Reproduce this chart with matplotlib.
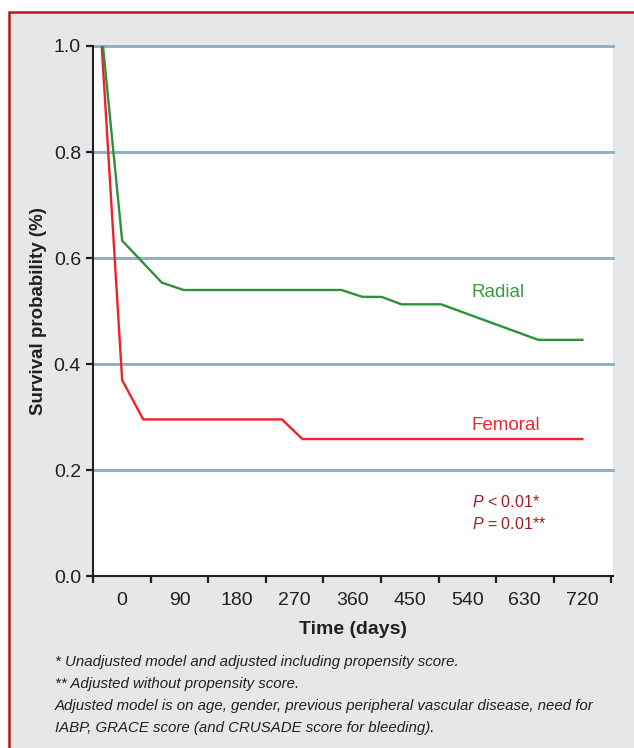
import matplotlib
matplotlib.use("Agg")
import matplotlib.pyplot as plt
from matplotlib.patches import Rectangle
import numpy as np

plt.rcParams['font.family'] = ['Liberation Sans', 'DejaVu Sans']
plt.rcParams['mathtext.fontset'] = 'custom'
plt.rcParams['mathtext.it'] = 'Liberation Sans:italic'
plt.rcParams['mathtext.rm'] = 'Liberation Sans'

# survival curves
radial_days = [-30, 0, 62, 96, 343, 376, 406, 437, 499, 651, 720]
radial_surv = [1.0, 0.633, 0.554, 0.540, 0.540, 0.527, 0.527, 0.513, 0.513, 0.446, 0.446]
femoral_days = [-32, 0, 33, 250, 282, 720]
femoral_surv = [1.0, 0.370, 0.296, 0.296, 0.259, 0.259]

x_ticks = [0, 90, 180, 270, 360, 450, 540, 630, 720]
x_bounds = [-45, 45, 135, 225, 315, 405, 495, 585, 675, 765]
y_ticks = [0.0, 0.2, 0.4, 0.6, 0.8, 1.0]

footnotes = [
    "* Unadjusted model and adjusted including propensity score.",
    "** Adjusted without propensity score.",
    "Adjusted model is on age, gender, previous peripheral vascular disease, need for",
    "IABP, GRACE score (and CRUSADE score for bleeding).",
]

bg = "#e6e7e9"
dark = "#231f20"
grid_col = "#8fb0c3"
green = "#2b923a"
red = "#ee2228"

fig = plt.figure(figsize=(6.34, 7.48), dpi=100)
fig.patch.set_facecolor("white")
W, H = 634, 748
frame = Rectangle((9.3 / W, -0.05), 1.2, 1 - 12.3 / H + 0.05, transform=fig.transFigure,
                  facecolor=bg, edgecolor="#b8141d", linewidth=1.8, clip_on=False, zorder=0)
fig.patches.append(frame)

ax = fig.add_axes([93.4 / W, 1 - 576.4 / H, (613 - 93.4) / W, (576.4 - 46) / H])
ax.set_zorder(2)
ax.set_facecolor("white")
ax.set_xlim(-45, 768)
ax.set_ylim(0, 1.0)

for v in y_ticks[1:]:
    ax.axhline(v, color=grid_col, lw=2.1, clip_on=False, zorder=1)

ax.plot(femoral_days, femoral_surv, color=red, lw=1.7, zorder=3, solid_joinstyle="miter")
ax.plot(radial_days, radial_surv, color=green, lw=1.7, zorder=3, solid_joinstyle="miter")

for s in ["top", "right"]:
    ax.spines[s].set_visible(False)
for s in ["left", "bottom"]:
    ax.spines[s].set_color(dark)
    ax.spines[s].set_linewidth(1.5)
    ax.spines[s].set_zorder(4)

ax.set_yticks(y_ticks)
ax.set_yticklabels([f"{v:.1f}" for v in y_ticks])
ax.tick_params(axis="y", length=5, width=1.6, color=dark, pad=4, labelsize=14, labelcolor=dark)

ax.set_xticks(x_ticks)
ax.set_xticklabels([str(v) for v in x_ticks])
ax.set_xticks(x_bounds, minor=True)
ax.tick_params(axis="x", which="major", length=0, pad=11, labelsize=14, labelcolor=dark)
ax.tick_params(axis="x", which="minor", length=5, width=1.6, color=dark)

ax.set_xlabel("Time (days)", fontsize=14, fontweight="bold", color=dark, labelpad=9)
ax.set_ylabel("Survival probability (%)", fontsize=13.5, fontweight="bold", color=dark, labelpad=5)

ax.text(547, 0.536, "Radial", color="#3a9a40", fontsize=13.5, va="center", ha="left")
ax.text(547, 0.284, "Femoral", color="#ee2a30", fontsize=13.5, va="center", ha="left")
ax.text(547, 0.141, "$P$ < 0.01*", color="#a01c24", fontsize=11.5, va="center", ha="left")
ax.text(547, 0.098, "$P$ = 0.01**", color="#a01c24", fontsize=11.5, va="center", ha="left")

for i, line in enumerate(footnotes):
    fig.text(55 / W, 1 - (662 + i * 22) / H, line, fontsize=10.8, style="italic",
             color=dark, va="center", ha="left")

fig.savefig("out.png", dpi=100, facecolor=fig.get_facecolor())
